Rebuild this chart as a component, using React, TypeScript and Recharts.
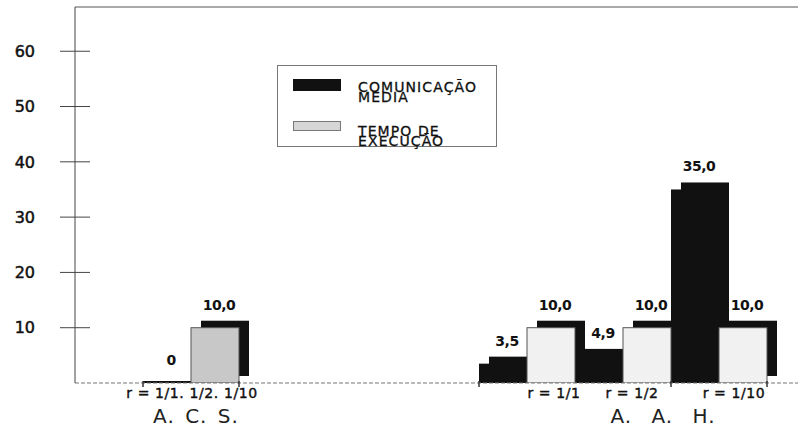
import { Bar, BarChart, Cell, LabelList, Legend, ReferenceLine, XAxis, YAxis } from "recharts";

// one slot per bar; empty slots keep the gap between the two groups
const slots = ["acs-c", "acs-e", "gap1", "gap2", "gap3", "gap4", "gap5", "aah1-c", "aah1-e", "aah2-c", "aah2-e", "aah3-c", "aah3-e"];
const comunicacaoMedia = [0, null, null, null, null, null, null, 3.5, null, 4.9, null, 35.0, null];
const tempoExecucao = [null, 10.0, null, null, null, null, null, null, 10.0, null, 10.0, null, 10.0];
const ratioLabels = ["", "r = 1/1. 1/2. 1/10", "", "", "", "", "", "", "r = 1/1", "", "r = 1/2", "", "r = 1/10"];
const groupLabels = ["", "A. C. S.", "", "", "", "", "", "", "", "", "A. A. H.", "", ""];
const seriesNames = ["COMUNICAÇÃO MEDIA", "TEMPO DE EXECUÇÃO"];
const yTicks = [10, 20, 30, 40, 50, 60];

const data = slots.map((slot, i) => ({
  slot,
  com: comunicacaoMedia[i],
  exe: tempoExecucao[i],
  ratio: ratioLabels[i],
  group: groupLabels[i],
}));

const FONT = "'DejaVu Sans', Verdana, sans-serif";
const INK = "#111";
const SHADOW_DX = 10;
const SHADOW_DY = 7;

// small nudges so the axis captions sit where the original put them
const ratioShift: Record<string, number> = { "acs-e": -23, "aah1-e": 3, "aah2-e": -15, "aah3-e": -9 };
const groupShift: Record<string, number> = { "acs-e": -19, "aah2-e": 16 };
const edgeTicks: Record<string, number> = { "acs-c": -1, "acs-e": 1, "aah1-c": -1, "aah3-c": -1, "aah3-e": 1 };

function barShape(key: "com" | "exe") {
  return (props: any) => {
    const { x, y, width, height, payload, fill } = props;
    if (payload[key] == null) return <g />;
    if (height < 1) return <rect x={x} y={y - 2} width={width} height={2} fill={INK} />;
    return (
      <g>
        <rect x={x + SHADOW_DX} y={y - SHADOW_DY} width={width} height={height} fill={INK} />
        <rect
          x={x}
          y={y}
          width={width}
          height={height}
          fill={fill}
          stroke={key === "exe" ? "#555" : "none"}
          strokeWidth={1}
        />
      </g>
    );
  };
}

const renderValue = (props: any) => {
  const { x, y, width, value } = props;
  if (value == null) return null;
  const text = value === 0 ? "0" : Number(value).toFixed(1).replace(".", ",");
  return (
    <text
      x={x + width / 2 + 4}
      y={y - 18}
      textAnchor="middle"
      fontFamily={FONT}
      fontWeight="bold"
      fontSize={14}
      letterSpacing={-0.5}
      fill={INK}
    >
      {text}
    </text>
  );
};

const YTick = (props: any) => {
  const { x, y, payload } = props;
  return (
    <g>
      <line x1={x - 15} x2={x + 15} y1={y} y2={y} stroke="#444" strokeWidth={1} />
      <text
        x={x - 40}
        y={y}
        dy="0.36em"
        textAnchor="end"
        fontFamily={FONT}
        fontSize={16}
        fill={INK}
        stroke={INK}
        strokeWidth={0.5}
      >
        {payload.value}
      </text>
    </g>
  );
};

const XTick = (props: any) => {
  const { x, y, index, payload } = props;
  const row = data[index];
  const slot = payload.value as string;
  const edge = edgeTicks[slot];
  return (
    <g>
      {edge !== undefined && (
        <line x1={x + edge * 24} x2={x + edge * 24} y1={y - 2} y2={y + 4} stroke="#333" strokeWidth={1.5} />
      )}
      {row.ratio && (
        <text
          x={x + (ratioShift[slot] ?? 0)}
          y={y + 15}
          textAnchor="middle"
          fontFamily={FONT}
          fontSize={14}
          letterSpacing={0.6}
          fill={INK}
          stroke={INK}
          strokeWidth={0.4}
        >
          {row.ratio}
        </text>
      )}
      {row.group && (
        <text
          x={x + (groupShift[slot] ?? 0)}
          y={y + 40}
          textAnchor="middle"
          fontFamily={FONT}
          fontSize={20}
          letterSpacing={1}
          wordSpacing={slot === "aah2-e" ? 12 : 3}
          fill="#222"
        >
          {row.group}
        </text>
      )}
    </g>
  );
};

const LegendBox = (props: any) => {
  const { payload = [] } = props;
  const tops = [13, 55];
  return (
    <div
      style={{
        position: "relative",
        width: 220,
        height: 82,
        border: "1px solid #777",
        boxSizing: "border-box",
        background: "#fff",
        fontFamily: FONT,
      }}
    >
      {payload.map((p: any, i: number) => (
        <div key={p.value} style={{ position: "absolute", left: 15, top: tops[i] }}>
          <div
            style={{
              position: "absolute",
              left: 0,
              top: 0,
              width: 48,
              height: i === 0 ? 12 : 10,
              background: p.color,
              border: i === 0 ? "none" : "1px solid #777",
              boxSizing: "border-box",
            }}
          />
          <div
            style={{
              position: "absolute",
              left: 65,
              top: i === 0 ? 3 : 5,
              width: 135,
              fontSize: 14,
              lineHeight: "10px",
              letterSpacing: 1.1,
              color: INK,
              WebkitTextStroke: "0.3px #111",
            }}
          >
            {p.value}
          </div>
        </div>
      ))}
    </div>
  );
};

export default function App() {
  return (
    <div style={{ position: "absolute", left: 0, top: 0, width: 798, height: 429, background: "#fff" }}>
      <BarChart
        width={798}
        height={429}
        data={data}
        margin={{ top: 7, right: 0, left: 0, bottom: 0 }}
        barCategoryGap={0}
        barGap={0}
      >
        <XAxis
          dataKey="slot"
          height={46}
          padding={{ left: 68, right: 31 }}
          axisLine={{ stroke: "#777", strokeDasharray: "4 2" }}
          tickLine={false}
          tickSize={0}
          tickMargin={0}
          interval={0}
          tick={XTick}
        />
        <YAxis
          width={75}
          domain={[0, 68]}
          ticks={yTicks}
          allowDataOverflow
          axisLine={{ stroke: "#444" }}
          tickLine={false}
          tickSize={0}
          tickMargin={0}
          interval={0}
          tick={YTick}
        />
        <ReferenceLine y={68} stroke="#555" />
        <Legend
          layout="vertical"
          align="center"
          verticalAlign="middle"
          content={LegendBox}
          wrapperStyle={{ left: 277, top: 65, width: 220 }}
        />
        <Bar
          dataKey="com"
          name={seriesNames[0]}
          stackId="a"
          fill={INK}
          shape={barShape("com")}
          isAnimationActive={false}
        >
          <LabelList dataKey="com" content={renderValue} />
        </Bar>
        <Bar
          dataKey="exe"
          name={seriesNames[1]}
          stackId="a"
          fill="#d6d6d6"
          shape={barShape("exe")}
          isAnimationActive={false}
        >
          {data.map((d) => (
            <Cell key={d.slot} fill={d.slot.startsWith("acs") ? "#c8c8c8" : "#f1f1f1"} />
          ))}
          <LabelList dataKey="exe" content={renderValue} />
        </Bar>
      </BarChart>
    </div>
  );
}
